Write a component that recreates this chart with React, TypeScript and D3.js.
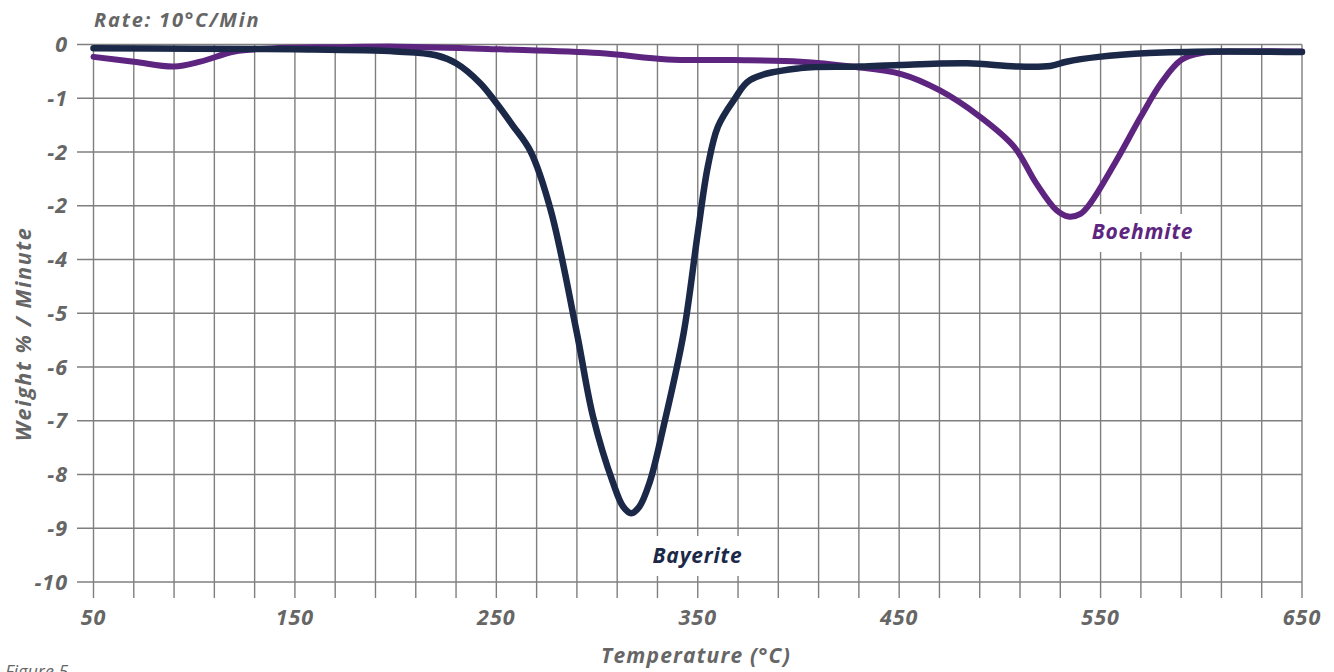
import React from "react";
import * as d3 from "d3";

const bayeriteX = [50, 100, 150, 200, 220, 230, 242, 250, 258, 267, 277, 290, 298, 308, 313, 317, 321, 326, 333, 343, 350, 355, 360, 368, 376, 401, 431, 450, 484, 508, 525, 533, 549, 574, 607, 650];
const bayeriteY = [-0.07, -0.08, -0.09, -0.13, -0.2, -0.35, -0.72, -1.09, -1.5, -1.99, -3.08, -5.37, -6.92, -8.16, -8.6, -8.72, -8.6, -8.16, -7.11, -5.37, -3.51, -2.27, -1.53, -1.03, -0.66, -0.44, -0.41, -0.38, -0.35, -0.41, -0.4, -0.32, -0.23, -0.16, -0.13, -0.14];
const boehmiteX = [50, 70, 90, 103, 120, 140, 170, 202, 252, 301, 335, 368, 401, 426, 451, 470, 490, 507, 518, 528, 534, 540, 545, 558, 570, 580, 590, 600, 620, 650];
const boehmiteY = [-0.23, -0.32, -0.41, -0.32, -0.13, -0.07, -0.05, -0.04, -0.09, -0.16, -0.28, -0.29, -0.32, -0.41, -0.55, -0.85, -1.34, -1.9, -2.58, -3.08, -3.2, -3.15, -2.95, -2.15, -1.34, -0.72, -0.29, -0.16, -0.13, -0.13];
const yTickValues = [0, -1, -2, -3, -4, -5, -6, -7, -8, -9, -10];
const yTickLabels = ["0", "-1", "-2", "-2", "-4", "-5", "-6", "-7", "-8", "-9", "-10"];
const xLabelValues = [50, 150, 250, 350, 450, 550, 650];
const xGridValues = d3.range(50, 651, 20);

export default function App() {
  const x = d3.scaleLinear().domain([50, 650]).range([93.5, 1302]);
  const y = d3.scaleLinear().domain([0, -10]).range([44.5, 582]);
  const line = d3
    .line<[number, number]>()
    .x((d) => x(d[0]))
    .y((d) => y(d[1]))
    .curve(d3.curveCatmullRom.alpha(0.5));
  const bay: [number, number][] = bayeriteX.map((v, i) => [v, bayeriteY[i]]);
  const boe: [number, number][] = boehmiteX.map((v, i) => [v, boehmiteY[i]]);
  const grid = "#7f7f7f";
  const txt = "#666666";
  const font = "'Open Sans', sans-serif";
  return (
    <svg width={1334} height={672} style={{ position: "absolute", left: 0, top: 0 }}>
      <rect width={1334} height={672} fill="#fff" />
      {xGridValues.map((v) => (
        <line key={"vx" + v} x1={x(v)} x2={x(v)} y1={y(0)} y2={y(-10) + 16} stroke={grid} strokeWidth={1.4} />
      ))}
      {yTickValues.map((v) => (
        <line key={"hy" + v} x1={77} x2={x(650)} y1={y(v)} y2={y(v)} stroke={grid} strokeWidth={1.4} />
      ))}
      <rect x={1084} y={214} width={116} height={38} fill="#fff" />
      <rect x={646} y={536} width={104} height={40} fill="#fff" />
      <path d={line(boe) || ""} fill="none" stroke="#5e2580" strokeWidth={6} strokeLinejoin="round" strokeLinecap="round" />
      <path d={line(bay) || ""} fill="none" stroke="#1b2848" strokeWidth={6.5} strokeLinejoin="round" strokeLinecap="round" />
      {yTickValues.map((v, i) => (
        <text key={"yl" + v} x={68} y={y(v) + 7.5} textAnchor="end" fontFamily={font} fontWeight={700} fontStyle="italic" fontSize={21.5} letterSpacing={1} fill={txt}>
          {yTickLabels[i]}
        </text>
      ))}
      {xLabelValues.map((v) => (
        <text key={"xl" + v} x={x(v)} y={625} textAnchor="middle" fontFamily={font} fontWeight={700} fontStyle="italic" fontSize={21.5} letterSpacing={1} fill={txt}>
          {v}
        </text>
      ))}
      <text x={94} y={27} fontFamily={font} fontWeight={700} fontStyle="italic" fontSize={20} letterSpacing={1.8} fill={txt}>
        Rate: 10°C/Min
      </text>
      <text x={696} y={663} textAnchor="middle" fontFamily={font} fontWeight={700} fontStyle="italic" fontSize={21} letterSpacing={1.2} fill={txt}>
        Temperature (°C)
      </text>
      <text transform={`translate(31,334) rotate(-90)`} textAnchor="middle" fontFamily={font} fontWeight={700} fontStyle="italic" fontSize={21.5} letterSpacing={1.6} fill={txt}>
        Weight % / Minute
      </text>
      <text x={5} y={678} fontFamily={font} fontStyle="italic" fontSize={18} fill={txt}>
        Figure 5
      </text>
      <text x={1142.5} y={239} textAnchor="middle" fontFamily={font} fontWeight={700} fontStyle="italic" fontSize={21} letterSpacing={0.8} fill="#5e2580">
        Boehmite
      </text>
      <text x={697.5} y={563} textAnchor="middle" fontFamily={font} fontWeight={700} fontStyle="italic" fontSize={21} letterSpacing={0.8} fill="#1b2848">
        Bayerite
      </text>
    </svg>
  );
}
